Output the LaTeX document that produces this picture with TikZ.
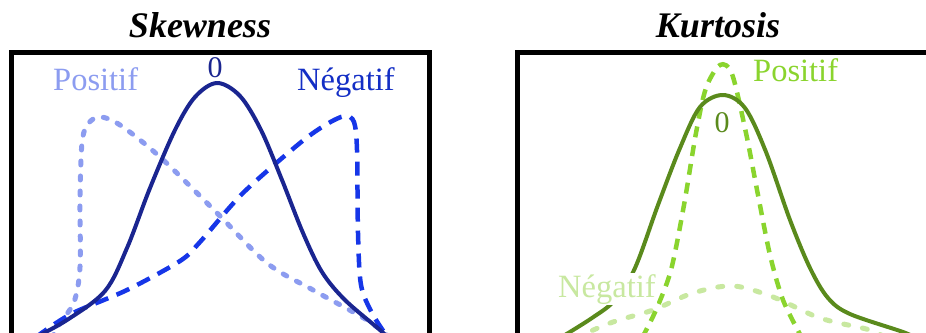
\documentclass[tikz,border=0pt]{standalone}
\usepackage{fontspec}
\setmainfont{Liberation Serif}
\usepackage{tikz}
\usepackage{xcolor}
\usetikzlibrary{positioning}

\definecolor{navy}{HTML}{1A2590}
\definecolor{brightblue}{HTML}{1636E8}
\definecolor{paleblue}{HTML}{8C9CF0}
\definecolor{olive}{HTML}{5A8A1C}
\definecolor{brightgreen}{HTML}{8AD42E}
\definecolor{palegreen}{HTML}{C8E8A0}

\begin{document}
\begin{tikzpicture}[x=1pt, y=-1pt,
  panel/.style={line width=5pt},
  title/.style={anchor=base, font=\fontsize{36}{40}\selectfont\bfseries\itshape},
  lbl/.style={anchor=base west, inner sep=0pt, font=\fontsize{32.5}{36}\selectfont},
  zero/.style={anchor=base, inner sep=0pt, font=\fontsize{30}{34}\selectfont},
  solidcurve/.style={line width=4pt, line join=round},
  dashcurve/.style={line width=4.5pt, dash pattern=on 14pt off 9pt},
  dotcurve/.style={line width=5pt, line cap=round, dash pattern=on 4pt off 11pt}
]
\useasboundingbox (0,0) rectangle (926,332);
\clip (0,0) rectangle (926,332);

% titles
\node[title] (skewtitle) at (200,37) {Skewness};
\node[title] (kurttitle) at (718,37) {Kurtosis};

% panels
\draw[panel] (11.5,345) -- (11.5,52.5) -- (429.5,52.5) -- (429.5,345);
\draw[panel] (517.5,345) -- (517.5,52.5) -- (940,52.5);

% skewness: positive (pale, dotted)
\draw[dotcurve, paleblue] plot[smooth, tension=0.55] coordinates {
  (52,338) (60,323) (74,302) (80,267) (80,200) (82,143) (88,124)
  (100,117) (120,125) (160,157) (217,213) (267,263) (313,290) (367,320) (390,338)};

% skewness: negative (bright, dashed)
\draw[dashcurve, brightblue] plot[smooth, tension=0.5] coordinates {
  (36,338) (43,332) (73,313) (127,290) (180,261) (200,242) (243,193)
  (300,143) (327,124) (345,116) (354,122) (357,150) (358,233) (361,285)
  (372,313) (388,338)};

% skewness: zero (solid)
\draw[solidcurve, navy] plot[smooth, tension=0.55] coordinates {
  (34,338) (67,320) (105,291) (127,248) (150,188) (175,130) (195,97)
  (217,83) (240,96) (261,130) (282,180) (303,233) (322,272) (345,300)
  (380,330) (388,338)};

\node[lbl, paleblue] (skewpos) at (53,90) {Positif};
\node[lbl, brightblue!85!black] (skewneg) at (297,90) {Négatif};
\node[zero, navy] (skewzero) at (215,77) {0};

% kurtosis: negative (pale, dotted)
\draw[dotcurve, palegreen, dash pattern=on 5pt off 14pt] plot[smooth, tension=0.55] coordinates {
  (575,338) (613,322) (653,310) (693,293) (733,286) (773,297)
  (820,318) (870,330) (885,338)};

% kurtosis: positive (bright, dashed)
\draw[dashcurve, brightgreen, dash pattern=on 11pt off 8pt] plot[smooth, tension=0.5] coordinates {
  (642,338) (656,310) (671,270) (684,205) (696,133) (706,88)
  (720,65) (732,74) (746,133) (758,195) (770,255) (783,300) (802,338)};

% kurtosis: zero (solid)
\draw[solidcurve, olive] plot[smooth, tension=0.55] coordinates {
  (560,338) (592,318) (615,300) (635,268) (658,205) (680,148)
  (700,107) (723,95) (745,108) (766,152) (790,220) (810,268)
  (828,298) (850,314) (903,332) (915,338)};

\node[lbl, brightgreen] (kurtpos) at (753,81) {Positif};
\node[zero, olive] (kurtzero) at (722,132) {0};
\node[lbl, palegreen, fill=white, inner sep=1pt] (kurtneg) at (557,297) {Négatif};

\end{tikzpicture}
\end{document}
